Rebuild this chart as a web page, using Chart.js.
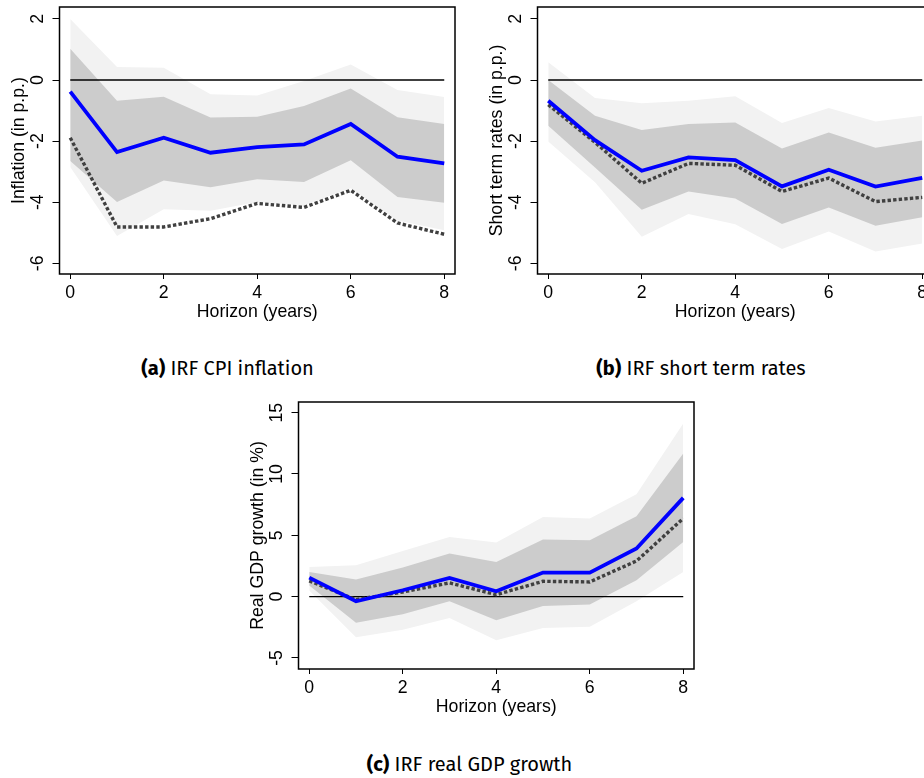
<!DOCTYPE html>
<html>
<head>
<meta charset="utf-8">
<script src="https://cdn.jsdelivr.net/npm/chart.js@4.4.1/dist/chart.umd.min.js"></script>
<style>
  html, body { margin: 0; padding: 0; background: #fff; }
  body { position: relative; width: 924px; height: 778px; overflow: hidden; }
  .panel { position: absolute; width: 470px; height: 330px; }
  .caption {
    position: absolute;
    font-family: 'Fira Sans', 'Open Sans', sans-serif;
    font-size: 20px;
    line-height: 24px;
    color: #000;
    white-space: nowrap;
    transform: translateX(-50%);
  }
</style>
</head>
<body>
<div class="panel" style="left:0;top:0"><canvas id="chart-a" width="470" height="330"></canvas></div>
<div class="panel" style="left:478px;top:0"><canvas id="chart-b" width="470" height="330"></canvas></div>
<div class="panel" style="left:239px;top:394.7px"><canvas id="chart-c" width="470" height="330"></canvas></div>
<div class="caption" style="left:227.5px;top:356px"><b>(a)</b> IRF CPI inflation</div>
<div class="caption" style="left:701px;top:356px"><b>(b)</b> IRF short term rates</div>
<div class="caption" style="left:469.5px;top:752px"><b>(c)</b> IRF real GDP growth</div>
<script>
const horizon = [0, 1, 2, 3, 4, 5, 6, 7, 8];
const xTicks = [0, 2, 4, 6, 8];
const zeroLine = [0, 0, 0, 0, 0, 0, 0, 0, 0];

// (a) CPI inflation
const inflationIrf = [-0.38, -2.36, -1.89, -2.38, -2.2, -2.11, -1.44, -2.51, -2.73];
const inflationAlt = [-1.89, -4.81, -4.81, -4.54, -4.04, -4.17, -3.61, -4.68, -5.05];
const inflationUp68 = [1.02, -0.68, -0.55, -1.23, -1.2, -0.85, -0.28, -1.22, -1.44];
const inflationLo68 = [-2.65, -3.99, -3.29, -3.51, -3.25, -3.34, -2.63, -3.83, -4.02];
const inflationUp90 = [2.0, 0.43, 0.4, -0.47, -0.51, -0.03, 0.51, -0.33, -0.56];
const inflationLo90 = [-2.85, -5.11, -4.23, -4.28, -3.99, -4.1, -3.54, -4.6, -4.92];

// (b) short term rates
const ratesIrf = [-0.68, -1.97, -2.97, -2.53, -2.62, -3.48, -2.94, -3.49, -3.2];
const ratesAlt = [-0.81, -2.04, -3.38, -2.73, -2.79, -3.65, -3.21, -3.98, -3.84];
const ratesUp68 = [0.0, -1.17, -1.64, -1.44, -1.39, -2.24, -1.72, -2.22, -1.98];
const ratesLo68 = [-1.5, -2.86, -4.25, -3.65, -3.88, -4.71, -4.17, -4.77, -4.49];
const ratesUp90 = [0.58, -0.59, -0.76, -0.68, -0.53, -1.41, -0.92, -1.36, -1.17];
const ratesLo90 = [-2.01, -3.35, -5.13, -4.39, -4.72, -5.53, -4.96, -5.61, -5.35];

// (c) real GDP growth
const gdpIrf = [1.55, -0.38, 0.52, 1.52, 0.44, 1.96, 1.96, 3.92, 8.05];
const gdpAlt = [1.28, -0.24, 0.38, 1.12, 0.16, 1.25, 1.2, 2.91, 6.37];
const gdpUp68 = [2.0, 1.39, 2.37, 3.51, 2.83, 4.65, 4.6, 6.56, 11.67];
const gdpLo68 = [0.9, -2.12, -1.44, -0.38, -1.93, -0.76, -0.65, 1.33, 4.46];
const gdpUp90 = [2.42, 2.56, 3.73, 4.87, 4.41, 6.5, 6.37, 8.35, 14.12];
const gdpLo90 = [0.5, -3.32, -2.69, -1.74, -3.56, -2.56, -2.45, -0.38, 2.01];

const ppTicks = [-6, -4, -2, 0, 2];
const gdpTicks = [-5, 0, 5, 10, 15];

const axisFont = { family: "'Liberation Sans', Arial, sans-serif", size: 17.7 };

function toPoints(values) {
  return values.map((v, i) => ({ x: horizon[i], y: v }));
}

const framePlugin = {
  id: 'frame',
  afterDatasetsDraw(chart) {
    const { ctx, chartArea: { left, top, width, height } } = chart;
    ctx.save();
    ctx.strokeStyle = '#000';
    ctx.lineWidth = 1.5;
    ctx.strokeRect(left, top, width, height);
    ctx.restore();
  },
};

function irfChart(canvasId, opts) {
  const line = { pointRadius: 0, tension: 0, fill: false };
  const band = { pointRadius: 0, tension: 0, borderWidth: 0, borderColor: 'rgba(0,0,0,0)' };

  return new Chart(document.getElementById(canvasId), {
    type: 'line',
    data: {
      datasets: [
        { ...line, data: toPoints(opts.irf), borderColor: '#0000ff', borderWidth: 3.8 },
        { ...line, data: toPoints(opts.alt), borderColor: '#404040', borderWidth: 3.4, borderDash: [3.4, 2.2] },
        { ...line, data: toPoints(zeroLine), borderColor: '#000', borderWidth: 1.3 },
        { ...band, data: toPoints(opts.up68), fill: '+1', backgroundColor: '#cccccc' },
        { ...band, data: toPoints(opts.lo68), fill: false },
        { ...band, data: toPoints(opts.up90), fill: '+1', backgroundColor: '#f2f2f2' },
        { ...band, data: toPoints(opts.lo90), fill: false },
      ],
    },
    options: {
      responsive: false,
      animation: false,
      devicePixelRatio: 1,
      layout: { padding: { left: 0, top: 7, right: 15, bottom: 0 } },
      plugins: {
        legend: { display: false },
        tooltip: { enabled: false },
      },
      scales: {
        x: {
          type: 'linear',
          min: -0.23,
          max: 8.23,
          afterBuildTicks: (scale) => { scale.ticks = xTicks.map((value) => ({ value })); },
          afterFit: (scale) => {
            scale.height = 56;
            scale.paddingLeft = 0;
            scale.paddingRight = 0;
          },
          grid: { drawOnChartArea: false, drawTicks: true, tickLength: 5, color: '#000', lineWidth: 1 },
          border: { display: false },
          ticks: { color: '#000', font: axisFont, padding: 3, maxRotation: 0, autoSkip: false },
          title: { display: true, text: 'Horizon (years)', color: '#000', font: axisFont, padding: { top: 0, bottom: 7.4 } },
        },
        y: {
          type: 'linear',
          min: opts.yMin,
          max: opts.yMax,
          afterBuildTicks: (scale) => { scale.ticks = opts.yTicks.map((value) => ({ value })); },
          afterFit: (scale) => {
            scale.width = 59.5;
            scale.paddingTop = 0;
            scale.paddingBottom = 0;
          },
          grid: { drawOnChartArea: false, drawTicks: true, tickLength: 7, color: '#000', lineWidth: 1 },
          border: { display: false },
          ticks: {
            color: '#000',
            font: axisFont,
            padding: opts.tickPad,
            minRotation: 90,
            maxRotation: 90,
            crossAlign: 'center',
            autoSkip: false,
          },
          title: { display: true, text: opts.yTitle, color: '#000', font: axisFont, padding: { top: 8.2, bottom: 0 } },
        },
      },
    },
    plugins: [framePlugin],
  });
}

irfChart('chart-a', {
  irf: inflationIrf, alt: inflationAlt,
  up68: inflationUp68, lo68: inflationLo68, up90: inflationUp90, lo90: inflationLo90,
  yMin: -6.35, yMax: 2.39, yTicks: ppTicks, yTitle: 'Inflation (in p.p.)', tickPad: 6.9,
});

irfChart('chart-b', {
  irf: ratesIrf, alt: ratesAlt,
  up68: ratesUp68, lo68: ratesLo68, up90: ratesUp90, lo90: ratesLo90,
  yMin: -6.35, yMax: 2.39, yTicks: ppTicks, yTitle: 'Short term rates (in p.p.)', tickPad: 6.9,
});

irfChart('chart-c', {
  irf: gdpIrf, alt: gdpAlt,
  up68: gdpUp68, lo68: gdpLo68, up90: gdpUp90, lo90: gdpLo90,
  yMin: -5.9, yMax: 15.87, yTicks: gdpTicks, yTitle: 'Real GDP growth (in %)', tickPad: 4.2,
});
</script>
</body>
</html>
